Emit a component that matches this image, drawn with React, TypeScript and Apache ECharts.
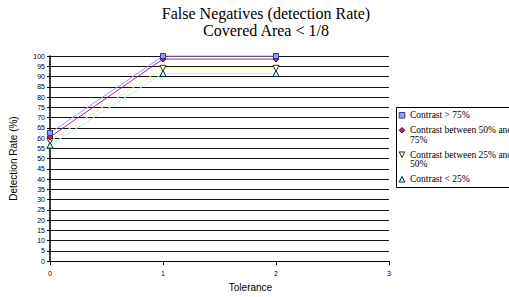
import React, { useEffect, useRef } from "react";
import * as echarts from "echarts";

const tolerance = [0, 1, 2];
const seriesNames = [
  "Contrast > 75%",
  "Contrast between 50% and 75%",
  "Contrast between 25% and 50%",
  "Contrast < 25%",
];
const above75 = [62.5, 100, 100];
const between50and75 = [60.5, 98.5, 98.5];
const between25and50 = [58.5, 94, 94];
const below25 = [56.5, 91.5, 91.5];
const titleLines = ["False Negatives (detection Rate)", "Covered Area < 1/8"];
const xName = "Tolerance";
const yName = "Detection Rate (%)";

const styles = [
  { line: "#9999FF", fill: "#9999FF", stroke: "#333399", symbol: "rect", rotate: 0, size: 5 },
  { line: "#993366", fill: "#993366", stroke: "#660033", symbol: "diamond", rotate: 0, size: 6 },
  { line: "#F6F6A0", fill: "#FFFFCC", stroke: "#333333", symbol: "triangle", rotate: 180, size: 6 },
  { line: "#B4F2F2", fill: "#CCFFFF", stroke: "#003333", symbol: "triangle", rotate: 0, size: 6 },
];

const values = [above75, between50and75, between25and50, below25];

function wrapName(name: string): string {
  if (name.length <= 20) return name;
  const words = name.split(" ");
  return words.slice(0, -1).join(" ") + "\n" + words[words.length - 1];
}

function iconShape(kind: string, cx: number, cy: number, fill: string, stroke: string) {
  const s = 2.8;
  if (kind === "rect") {
    return { type: "rect", shape: { x: cx - s, y: cy - s, width: 2 * s, height: 2 * s }, style: { fill, stroke, lineWidth: 1 } };
  }
  if (kind === "diamond") {
    return { type: "polygon", shape: { points: [[cx, cy - s], [cx + s, cy], [cx, cy + s], [cx - s, cy]] }, style: { fill, stroke, lineWidth: 1 } };
  }
  if (kind === "down") {
    return { type: "polygon", shape: { points: [[cx - s, cy - s], [cx + s, cy - s], [cx, cy + s]] }, style: { fill, stroke, lineWidth: 1 } };
  }
  return { type: "polygon", shape: { points: [[cx - s, cy + s], [cx + s, cy + s], [cx, cy - s]] }, style: { fill, stroke, lineWidth: 1 } };
}

export default function App() {
  const ref = useRef<HTMLDivElement>(null);
  useEffect(() => {
    if (!ref.current) return;
    const chart = echarts.init(ref.current, undefined, { renderer: "svg" });

    const lineH = 9.5;
    const gap = 5.5;
    const iconKinds = ["rect", "diamond", "down", "up"];
    const legendEls: any[] = [
      { type: "rect", z: -1, shape: { x: 396.5, y: 107.5, width: 160, height: 80 }, style: { fill: "#fff", stroke: "#000", lineWidth: 1 } },
    ];
    const legendTitles: any[] = [];
    let top = 110.5;
    seriesNames.forEach((name, i) => {
      const label = wrapName(name);
      const nLines = label.split("\n").length;
      legendEls.push(iconShape(iconKinds[i], 402, top + lineH / 2, styles[i].fill, styles[i].stroke));
      legendTitles.push({
        text: label,
        left: 410,
        top: top,
        padding: 0,
        textStyle: {
          fontFamily: "'Liberation Serif', 'Times New Roman', Times, serif",
          fontSize: 9.5,
          fontWeight: "normal",
          lineHeight: lineH,
          color: "#000",
        },
      });
      top += nLines * lineH + gap;
    });

    chart.setOption({
      animation: false,
      backgroundColor: "#fff",
      title: [
        {
          text: titleLines.join("\n"),
          left: 266,
          top: 5,
          textAlign: "center",
          padding: 0,
          textStyle: { fontFamily: "Liberation Serif", fontSize: 16, fontWeight: "normal", color: "#000", lineHeight: 17 },
        },
        ...legendTitles,
      ],
      grid: { left: 50, top: 56, width: 339, height: 219, containLabel: false },
      xAxis: {
        type: "value",
        min: 0,
        max: 3,
        interval: 1,
        name: xName,
        nameLocation: "middle",
        nameGap: 14,
        nameTextStyle: { fontFamily: "Liberation Sans", fontSize: 10, color: "#000", padding: [0, 0, 0, 62] },
        axisLine: { show: true, lineStyle: { color: "#000", width: 1 } },
        axisTick: { show: true, length: 4, lineStyle: { color: "#000" } },
        axisLabel: { fontFamily: "Liberation Sans", fontSize: 7, color: "#000", margin: 9 },
        splitLine: { show: false },
      },
      yAxis: {
        type: "value",
        min: 0,
        max: 100,
        interval: 5,
        name: yName,
        nameLocation: "middle",
        nameGap: 32,
        nameTextStyle: { fontFamily: "Liberation Sans", fontSize: 10, color: "#000" },
        axisLine: { show: true, lineStyle: { color: "#000", width: 1.5 } },
        axisTick: { show: true, length: 3, lineStyle: { color: "#000" } },
        axisLabel: { fontFamily: "Liberation Sans", fontSize: 7, color: "#000", margin: 5 },
        splitLine: { show: true, lineStyle: { color: "#111", width: 1 } },
      },
      graphic: legendEls,
      series: values.map((vals, i) => ({
        name: seriesNames[i],
        type: "line",
        data: tolerance.map((x, j) => [x, vals[j]]),
        symbol: styles[i].symbol,
        symbolRotate: styles[i].rotate,
        symbolSize: styles[i].size,
        showAllSymbol: true,
        clip: false,
        lineStyle: { color: styles[i].line, width: 1 },
        itemStyle: { color: styles[i].fill, borderColor: styles[i].stroke, borderWidth: 1 },
        z: 10 - i,
      })),
    });
    return () => chart.dispose();
  }, []);
  return (
    <div style={{ position: "fixed", left: 0, top: 0, width: 509, height: 297, overflow: "hidden", background: "#fff" }}>
      <div ref={ref} style={{ width: 580, height: 297 }} />
    </div>
  );
}
